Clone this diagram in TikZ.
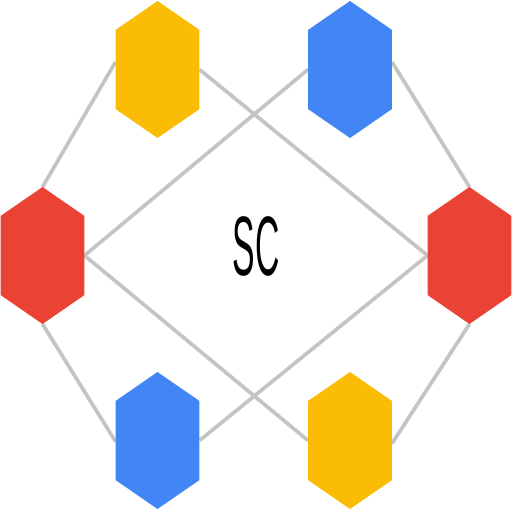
\documentclass[tikz,border=0pt]{standalone}
\usepackage{fontspec}
\setsansfont{Liberation Sans}
\usetikzlibrary{calc, backgrounds}
\definecolor{hexyellow}{HTML}{FBBC05}
\definecolor{hexblue}{HTML}{4285F4}
\definecolor{hexred}{HTML}{EA4335}
\definecolor{linkgray}{HTML}{C4C4C4}

\begin{document}
\begin{tikzpicture}[
		x=0.02cm, y=0.02cm,
		hexcell/.style={rectangle, minimum width=1.68cm, minimum height=2.74cm, inner sep=0pt, outer sep=0pt,
			path picture={\fill[#1] (path picture bounding box.north)
				-- ($(path picture bounding box.east)!0.577!(path picture bounding box.north east)$)
				-- ($(path picture bounding box.east)!0.577!(path picture bounding box.south east)$)
				-- (path picture bounding box.south)
				-- ($(path picture bounding box.west)!0.577!(path picture bounding box.south west)$)
				-- ($(path picture bounding box.west)!0.577!(path picture bounding box.north west)$) -- cycle;}},
		link/.style={draw=linkgray, line width=2.1pt}
	]
	\useasboundingbox (0,0) rectangle (512,512);
	\node[hexcell=hexyellow] (ytl) at (157.5,442.5) {};
	\node[hexcell=hexblue] (btr) at (350,442.5) {};
	\node[hexcell=hexred] (rl) at (42.5,256.5) {};
	\node[hexcell=hexred] (rr) at (469.5,256.5) {};
	\node[hexcell=hexblue] (bbl) at (157.5,71.5) {};
	\node[hexcell=hexyellow] (ybr) at (350,71.5) {};
	
	\node[font=\sffamily\fontsize{48}{48}\selectfont, xscale=0.4, transform shape] (sc) at (256,265.5) {SC};
	
	% Links behind the cells
	\begin{scope}[on background layer]
		\draw[link] (rl.north) -- ($(ytl.west)+(0,7.5)$);
		\draw[link] (ytl.east) -- (rr.west);
		\draw[link] (rl.east) -- (btr.west);
		\draw[link] ($(btr.east)+(0,7.5)$) -- (rr.north);
		\draw[link] (rl.south) -- ($(bbl.west)+(0,-1)$);
		\draw[link] (rl.east) -- (ybr.west);
		\draw[link] (bbl.east) -- (rr.west);
		\draw[link] ($(ybr.east)+(0,-3)$) -- (rr.south);
	\end{scope}
\end{tikzpicture}
\end{document}
